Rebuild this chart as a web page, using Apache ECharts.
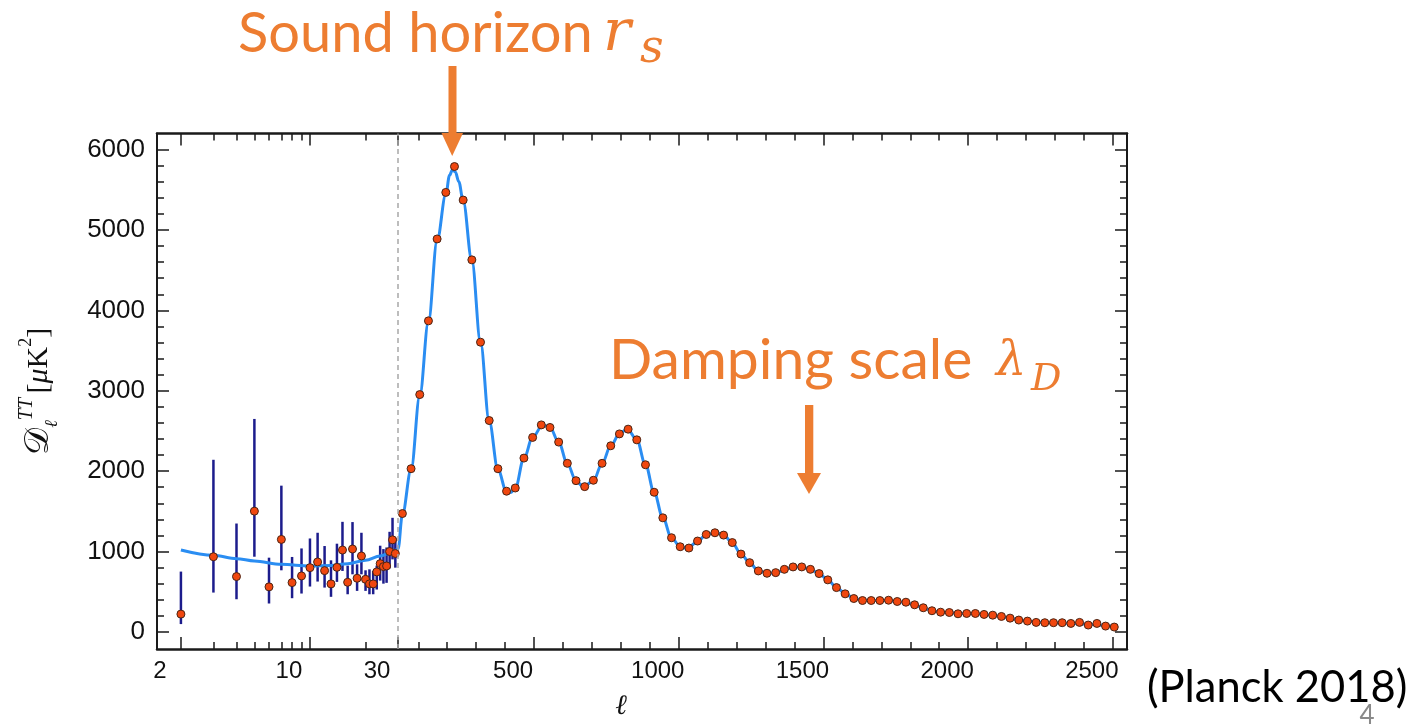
<!DOCTYPE html>
<html><head><meta charset="utf-8">
<script src="https://cdn.jsdelivr.net/npm/echarts@6/dist/echarts.min.js"></script>
<style>html,body{margin:0;padding:0;background:#fff}#c{width:1418px;height:726px}</style>
</head><body><div id="c"></div>
<script>
// ---- low-ell (unbinned) points with error bars ----
const lowL  = [2,3,4,5,6,7,8,9,10,11,12,13,14,15,16,17,18,19,20,21,22,23,24,25,26,27,28,29];
const lowD  = [221,935,688,1502,560,1150,613,696,799,870,762,597,803,1018,617,1031,667,944,654,597,597,746,849,812,820,1000,1145,975];
const lowLo = [97,489,406,935,353,766,419,477,564,626,551,436,622,758,468,716,510,716,510,468,468,527,638,600,610,791,902,799];
const lowHi = [750,2141,1348,2649,923,1819,932,1038,1162,1233,1068,890,1097,1369,824,1366,840,1233,766,778,760,824,1072,1030,1050,1245,1419,1171];

// ---- binned high-ell points ----
const binL = [45,75,105,135,165,195,225,255,285,315,345,375,405,435,465,495,525,555,585,615,645,675,705,735,765,795,825,855,885,915,945,975,1005,1035,1065,1095,1125,1155,1185,1215,1245,1275,1305,1335,1365,1395,1425,1455,1485,1515,1545,1575,1605,1635,1665,1695,1725,1755,1785,1815,1845,1875,1905,1935,1965,1995,2025,2055,2085,2115,2145,2175,2205,2235,2265,2295,2325,2355,2385,2415,2445,2475,2505];
const binD = [1472,2030,2952,3869,4888,5467,5789,5372,4628,3604,2629,2030,1750,1790,2162,2419,2575,2543,2361,2097,1881,1807,1886,2097,2315,2463,2522,2389,2079,1737,1419,1171,1059,1043,1130,1212,1233,1204,1111,968,861,758,729,737,778,808,808,778,725,647,551,473,415,390,390,390,394,378,369,337,300,263,245,241,225,229,229,217,208,192,171,147,134,118,114,114,114,105,118,85,105,72,60];

// ---- best-fit theory curve ----
const fitL = [2,3,4,5,7,10,13,16,20,24,28,30,45,75,105,135,165,195,208,218,228,240,255,285,315,345,375,405,420,435,465,495,530,555,585,615,645,670,705,735,765,795,822,855,885,915,945,975,1005,1030,1065,1095,1130,1155,1185,1215,1245,1275,1310,1340,1365,1395,1420,1455,1485,1515,1545,1575,1605,1635,1665,1695,1725,1755,1785,1815,1845,1875,1905,1935,1965,1995,2025,2055,2085,2115,2145,2175,2205,2235,2265,2295,2325,2355,2385,2415,2445,2475,2510];
const fitD = [1018,952,911,882,840,820,826,849,890,944,997,1030,1460,2020,2940,3860,4870,5440,5680,5750,5720,5600,5360,4620,3600,2620,2020,1745,1735,1785,2160,2420,2575,2545,2360,2095,1880,1805,1880,2095,2315,2465,2525,2390,2080,1735,1420,1170,1060,1040,1125,1210,1235,1205,1110,968,860,760,728,738,775,806,810,780,725,647,552,475,418,396,390,390,388,378,362,336,300,265,246,237,230,228,226,217,206,191,171,150,134,122,116,113,110,106,102,95,88,76,63];

// ---- axis ticks / labels ----
const xMajorL = [2,10,30,500,1000,1500,2000,2500];
const xMajorLabels = ['2','10','30','500','1000','1500','2000','2500'];
const xMinorL = [3,4,5,6,7,8,9,20,100,200,300,400,600,700,800,900,1100,1200,1300,1400,1600,1700,1800,1900,2100,2200,2300,2400];
const yMajor = [0,1000,2000,3000,4000,5000,6000];
const yMinor = [200,400,600,800,1200,1400,1600,1800,2200,2400,2600,2800,3200,3400,3600,3800,4200,4400,4600,4800,5200,5400,5600,5800,6000];

// hybrid axis: log for ell<30, linear for ell>=30
const SPLIT = 30, DEC = 638;
function toU(l){ return l >= SPLIT ? l : SPLIT - DEC * Math.log10(SPLIT / l); }
const xMajorU = xMajorL.map(toU);
const xMinorU = xMinorL.map(toU);
const XMIN = -803, XMAX = 2549, YMIN = -213, YMAX = 6200;
const INK = '#1a1a1a';
const ORANGE = '#ED7D31';

function xLabel(v){
  for (let i = 0; i < xMajorU.length; i++) if (Math.abs(xMajorU[i] - v) < 1e-6) return xMajorLabels[i];
  return '';
}
function xAx(pos, ticks, len, withLabels, withLine){
  return {
    type:'value', min:XMIN, max:XMAX, position:pos,
    axisLine:{show:withLine, onZero:false, lineStyle:{color:INK, width:2.5}},
    axisTick:{show:true, inside:true, length:len, customValues:ticks, lineStyle:{color:INK, width:1.5}},
    axisLabel:withLabels ? {show:true, customValues:xMajorU, formatter:xLabel, fontFamily:'Liberation Sans', fontSize:24, color:'#111', margin:10, padding:[0,42,0,0]} : {show:false},
    splitLine:{show:false}
  };
}
function yAx(pos, ticks, len, withLabels, withLine){
  return {
    type:'value', min:YMIN, max:YMAX, position:pos,
    axisLine:{show:withLine, onZero:false, lineStyle:{color:INK, width:2}},
    axisTick:{show:true, inside:true, length:len, customValues:ticks, lineStyle:{color:INK, width:1.5}},
    axisLabel:withLabels ? {show:true, customValues:yMajor, formatter:v => String(v), fontFamily:'Liberation Sans', fontSize:26, color:'#111', margin:12} : {show:false},
    splitLine:{show:false}
  };
}

const xAxes = [xAx('bottom', xMajorU, 12, true, true), xAx('bottom', xMinorU, 7, false, false),
               xAx('top', xMajorU, 12, false, true), xAx('top', xMinorU, 7, false, false)];
xAxes[0].name = 'ℓ';
xAxes[0].nameLocation = 'middle';
xAxes[0].nameGap = 44;
xAxes[0].nameTextStyle = {fontFamily:'DejaVu Serif', fontStyle:'italic', fontSize:28, color:'#111', padding:[0,42,0,0]};

const yAxes = [yAx('left', yMajor, 12, true, true), yAx('left', yMinor, 7, false, false),
               yAx('right', yMajor, 12, false, true), yAx('right', yMinor, 7, false, false)];
yAxes[0].name = '{d|𝒟}{s|ℓ}{p|TT}{g| }{b|[}{m|μ}{b|K}{q|2}{b|]}';
yAxes[0].nameLocation = 'middle';
yAxes[0].nameGap = 96;
yAxes[0].nameRotate = 90;
yAxes[0].nameTextStyle = {
  color:'#111',
  rich:{
    d:{fontFamily:'DejaVu Serif', fontSize:34, lineHeight:44, color:'#111'},
    s:{fontFamily:'DejaVu Serif', fontStyle:'italic', fontSize:18, lineHeight:18, verticalAlign:'bottom', color:'#111'},
    p:{fontFamily:'Liberation Serif', fontStyle:'italic', fontSize:20, lineHeight:20, verticalAlign:'top', color:'#111'},
    g:{fontSize:16},
    b:{fontFamily:'Liberation Serif', fontSize:30, lineHeight:44, color:'#111'},
    m:{fontFamily:'Liberation Serif', fontStyle:'italic', fontSize:30, lineHeight:44, color:'#111'},
    q:{fontFamily:'Liberation Serif', fontSize:18, lineHeight:18, verticalAlign:'top', color:'#111'}
  }
};

const option = {
  backgroundColor:'#fff',
  animation:false,
  grid:{left:157, right:291, top:133.5, bottom:74.3, containLabel:false},
  xAxis:xAxes,
  yAxis:yAxes,
  series:[
    {
      type:'custom', xAxisIndex:0, yAxisIndex:0, z:2,
      data: lowL.map((l,i) => [toU(l), lowLo[i], lowHi[i]]),
      encode:{x:0, y:[1,2]},
      renderItem:(params, api) => {
        const u = api.value(0);
        const a = api.coord([u, api.value(1)]);
        const b = api.coord([u, api.value(2)]);
        return {type:'line', shape:{x1:a[0], y1:a[1], x2:b[0], y2:b[1]}, style:{stroke:'#1c1c8c', lineWidth:2.5}};
      }
    },
    {
      type:'line', xAxisIndex:0, yAxisIndex:0, z:3,
      data: fitL.map((l,i) => [toU(l), fitD[i]]),
      smooth:0.35, smoothMonotone:'x', showSymbol:false, symbol:'none',
      lineStyle:{color:'#2a8df2', width:3},
      markLine:{silent:true, symbol:['none','none'], label:{show:false},
        lineStyle:{color:'#a8a8a8', type:[5,4], width:1.5},
        data:[{xAxis: toU(30)}]}
    },
    {
      type:'scatter', xAxisIndex:0, yAxisIndex:0, z:4,
      data: lowL.map((l,i) => [toU(l), lowD[i]]).concat(binL.map((l,i) => [toU(l), binD[i]])),
      symbol:'circle', symbolSize:8,
      itemStyle:{color:'#f0470f', borderColor:'#4a2414', borderWidth:1, opacity:1}
    }
  ],
  graphic:[
    {type:'text', x:238, y:34, z:10, style:{text:'Sound horizon', fontFamily:'Lato', fontSize:56, fill:ORANGE, textVerticalAlign:'middle'}},
    {type:'text', x:603, y:35, z:10, style:{text:'r', fontFamily:'DejaVu Serif', fontStyle:'italic', fontSize:58, fill:ORANGE, textVerticalAlign:'middle'}},
    {type:'text', x:640, y:50, z:10, style:{text:'s', fontFamily:'DejaVu Serif', fontStyle:'italic', fontSize:46, fill:ORANGE, textVerticalAlign:'middle'}},
    {type:'rect', z:10, shape:{x:448.5, y:66, width:8, height:68}, style:{fill:ORANGE}},
    {type:'polygon', z:10, shape:{points:[[441.5,133],[463,133],[452.2,156]]}, style:{fill:ORANGE}},

    {type:'text', x:609, y:361, z:10, style:{text:'Damping scale', fontFamily:'Lato', fontSize:57, fill:ORANGE, textVerticalAlign:'middle'}},
    {type:'text', x:996, y:363, z:10, style:{text:'λ', fontFamily:'DejaVu Serif', fontStyle:'italic', fontSize:48, fill:ORANGE, textVerticalAlign:'middle'}},
    {type:'text', x:1031, y:380, z:10, style:{text:'D', fontFamily:'DejaVu Serif', fontStyle:'italic', fontSize:38, fill:ORANGE, textVerticalAlign:'middle'}},
    {type:'rect', z:10, shape:{x:805, y:405, width:8.3, height:69}, style:{fill:ORANGE}},
    {type:'polygon', z:10, shape:{points:[[797,473],[821,473],[809,494]]}, style:{fill:ORANGE}},

    {type:'text', x:1147, y:688, z:10, style:{text:'(Planck 2018)', fontFamily:'Lato', fontSize:43.5, fill:'#000', textVerticalAlign:'middle'}},
    {type:'text', x:1367, y:716, z:11, style:{text:'4', fontFamily:'Lato', fontSize:26, fill:'#8a8a8a', textAlign:'center', textVerticalAlign:'middle'}}
  ]
};
const chart = echarts.init(document.getElementById('c'), null, {renderer:'canvas'});
chart.setOption(option);
</script>
</body></html>
